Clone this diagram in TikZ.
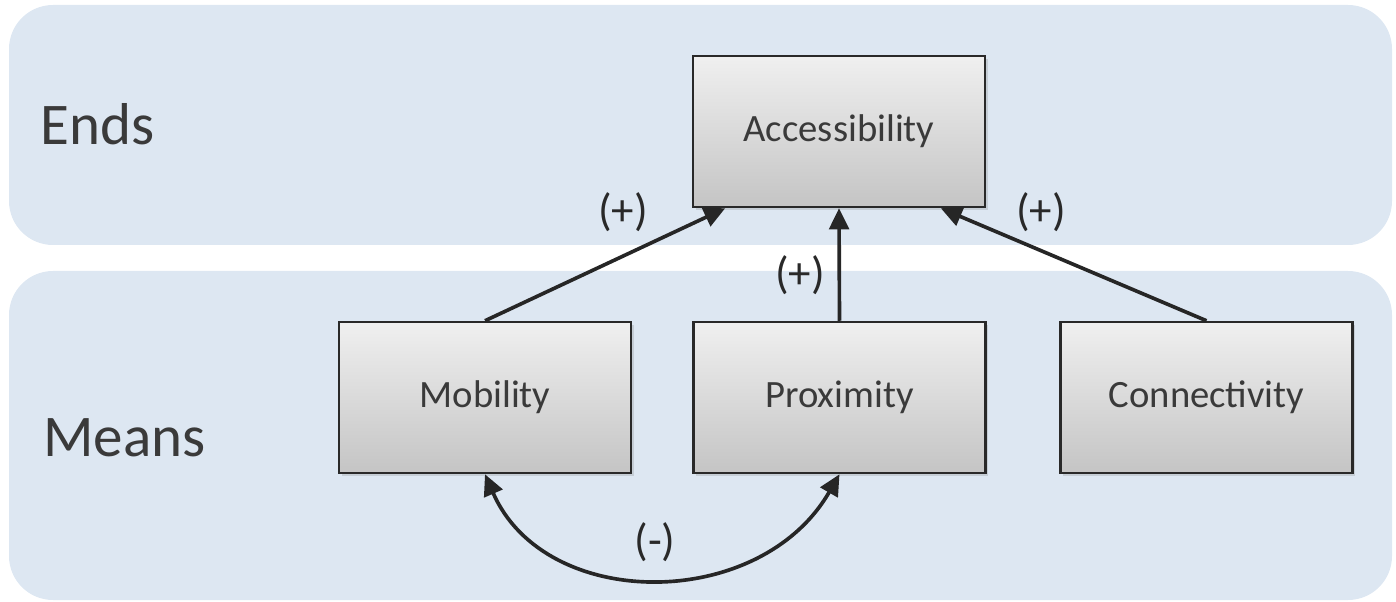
\documentclass[tikz,border=0pt]{standalone}
\usepackage{fontspec}
\setmainfont{Carlito}
\usetikzlibrary{arrows.meta,shadows}
\definecolor{bandblue}{RGB}{221,231,242}
\definecolor{inkgray}{RGB}{58,58,58}
\begin{document}
\begin{tikzpicture}[x=0.025cm, y=-0.025cm,
  band/.style={fill=bandblue, rounded corners=1.1cm},
  box/.style={draw=inkgray!70!black, line width=1.6pt, top color=gray!12, bottom color=gray!46,
    minimum width=7.3cm, minimum height=3.78cm, inner sep=0pt, text=inkgray,
    font=\fontsize{27.5}{30}\selectfont,
    drop shadow={opacity=0.25, shadow xshift=2pt, shadow yshift=-2pt}},
  sign/.style={text=inkgray!70!black, font=\fontsize{32}{34}\selectfont, inner sep=0pt},
  layer/.style={text=inkgray, font=\fontsize{42}{44}\selectfont, inner sep=0pt},
  link/.style={line width=2.6pt, draw=black!85, -{Triangle[length=15pt, width=14pt]}}]
\useasboundingbox (0,0) rectangle (1396,602);
\fill[band] (9,5) rectangle (1392,245);
\fill[band] (9,271) rectangle (1392,600);
\node[layer, anchor=base west] (ends) at (40,145) {Ends};
\node[layer, anchor=base west] (means) at (43,457) {Means};
\node[box] (acc) at (839,131.5) {Accessibility};
\node[box] (mob) at (485,397.5) {Mobility};
\node[box] (prox) at (839.5,397.5) {Proximity};
\node[box] (conn) at (1206.5,397.5) {Connectivity};
\draw[link] (mob.north) -- (acc.214);
\draw[link] (prox.north) -- (acc.south);
\draw[link] (conn.north) -- (acc.323);
\draw[link, {Triangle[length=15pt, width=14pt]}-{Triangle[length=15pt, width=14pt]}] (mob.south) .. controls (545,612) and (760,612) .. (prox.south);
\node[sign] (pmob) at (623,212) {(+)};
\node[sign] (pprox) at (800,275) {(+)};
\node[sign] (pconn) at (1041,212) {(+)};
\node[sign] (mneg) at (655,542) {(-)};
\end{tikzpicture}
\end{document}
